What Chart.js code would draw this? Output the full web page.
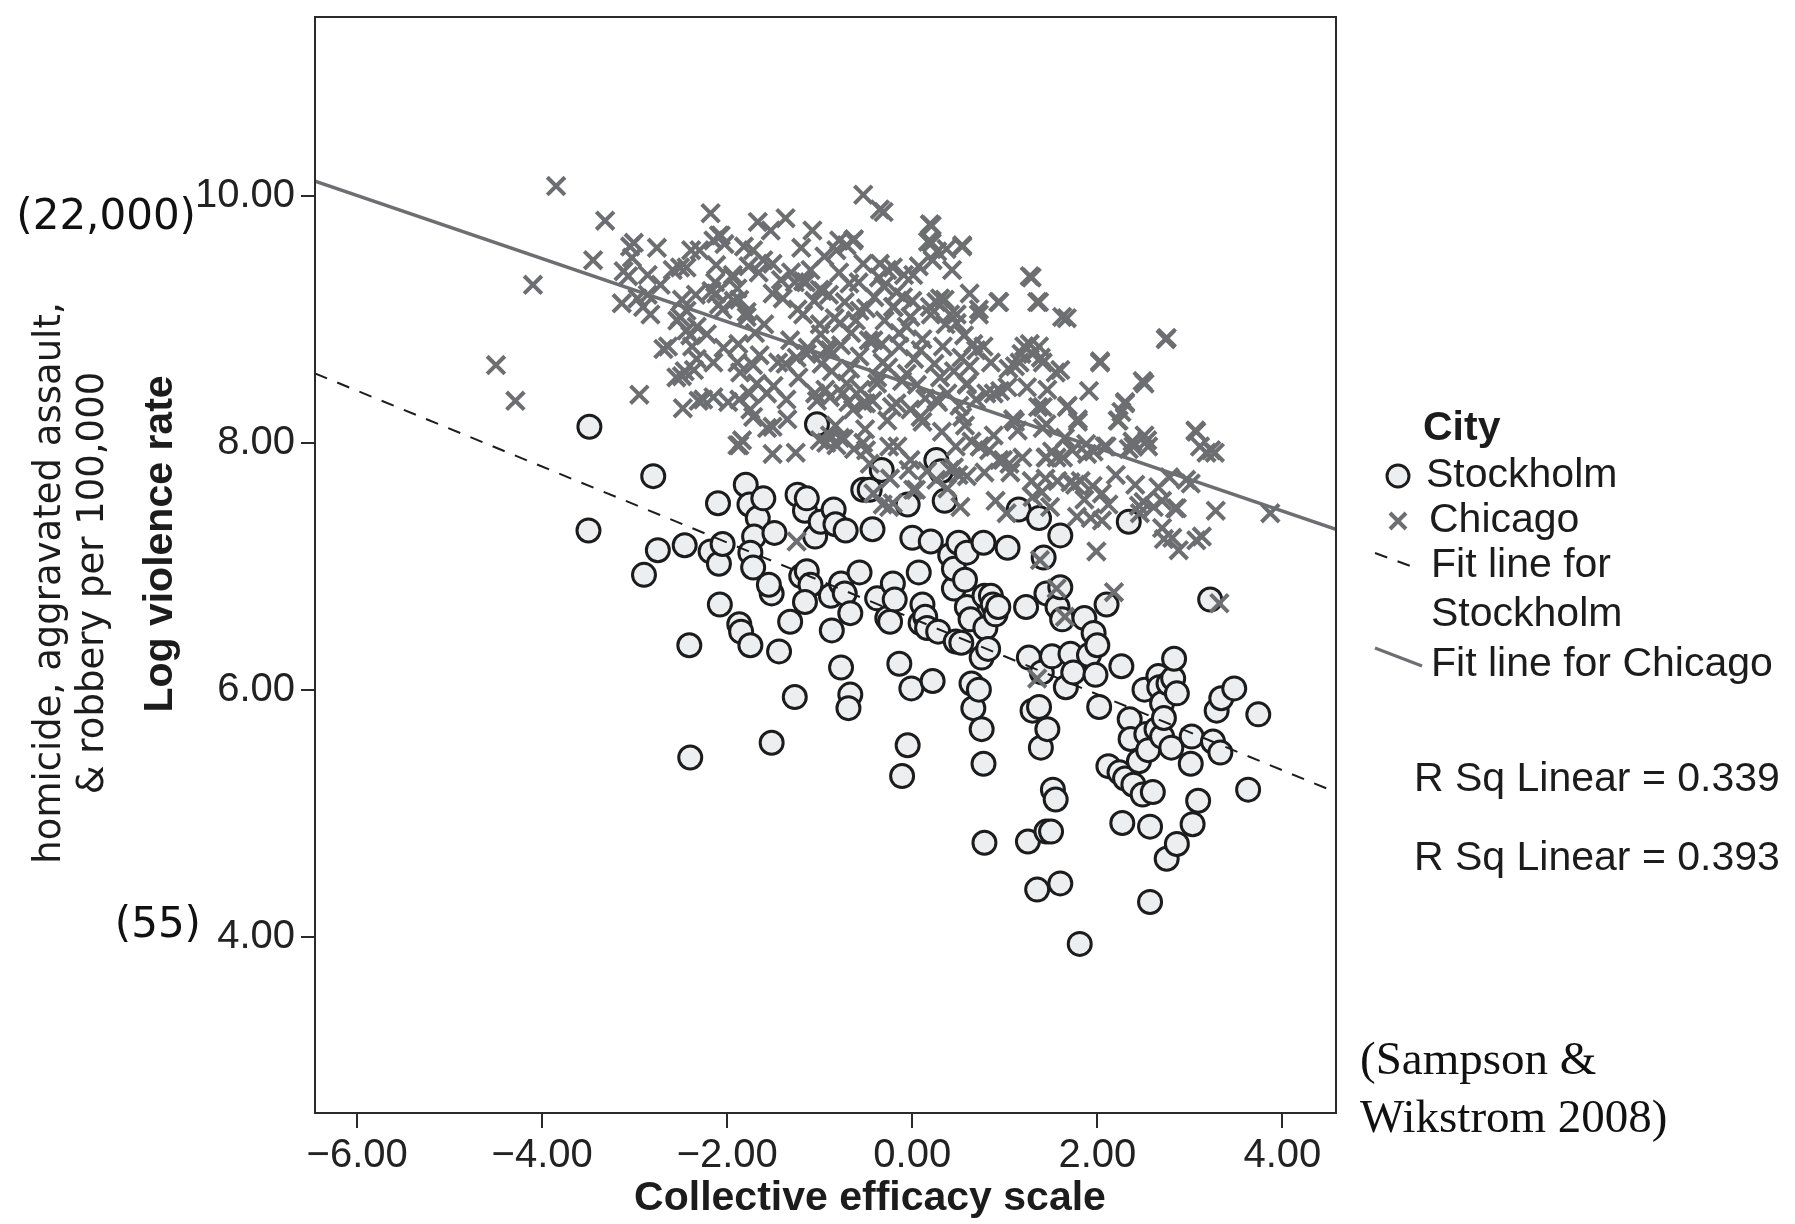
<!DOCTYPE html>
<html>
<head>
<meta charset="utf-8">
<script src="https://cdn.jsdelivr.net/npm/chart.js@4.4.1/dist/chart.umd.min.js"></script>
<style>
  html, body { margin: 0; padding: 0; background: #fff; }
  canvas { display: block; }
</style>
</head>
<body>
<canvas id="scatter" width="1795" height="1224" style="width:1795px;height:1224px"></canvas>
<script>
// axis ranges and ticks
var xRange = [-6.456, 4.58];
var yRange = [2.57, 11.45];
var xTicks = [-6, -4, -2, 0, 2, 4];
var yTicks = [4, 6, 8, 10];

// fit lines: [intercept, slope]
var stockholmFit = [6.577, -0.3075];
var chicagoFit = [8.47, -0.2555];

// Stockholm neighbourhoods [efficacy, log violence]
var stockholmPts = [
  [-3.49,8.13],[-3.50,7.29],[-2.80,7.73],[-2.90,6.93],[-2.75,7.13],[-2.46,7.17],[-2.41,6.36],[-2.40,5.45],
  [-2.10,7.51],[-2.18,7.12],[-2.09,7.02],[-2.05,7.18],[-2.08,6.69],[-1.87,6.53],[-1.85,6.47],[-1.75,6.36],
  [-1.80,7.66],[-1.76,7.50],[-1.67,7.39],[-1.71,7.24],[-1.75,7.11],[-1.72,6.99],[-1.61,7.55],[-1.49,7.27],
  [-1.52,6.78],[-1.55,6.85],[-1.44,6.31],[-1.52,5.57],[-1.32,6.55],[-1.27,5.94],[-1.24,7.58],[-1.20,6.92],
  [-1.16,7.45],[-1.14,6.96],[-1.14,7.55],[-1.10,6.85],[-1.16,6.71],[-1.05,7.24],[-0.99,7.36],[-0.88,6.76],
  [-0.85,7.46],[-0.83,7.34],[-0.87,6.48],[-0.77,6.18],[-0.77,6.86],[-0.72,7.29],[-0.73,6.78],[-0.67,6.62],
  [-0.67,5.96],[-0.69,5.85],[-0.57,6.95],[-0.53,7.62],[-0.46,7.62],[-0.43,7.30],[-0.33,7.78],[-0.38,6.74],
  [-0.27,6.58],[-0.24,6.55],[-0.21,6.86],[-0.19,6.73],[-0.14,6.21],[-0.11,5.30],[-0.05,7.50],[-0.05,5.55],
  [-0.01,6.01],[0.00,7.23],[0.07,6.95],[0.09,6.54],[0.11,6.69],[0.14,6.59],[0.16,6.50],[0.20,7.20],
  [0.22,6.07],[0.26,7.86],[0.28,6.47],[0.31,7.77],[0.35,7.53],[0.41,7.09],[0.45,6.82],[0.45,6.98],
  [0.47,6.39],[0.50,7.19],[0.53,6.38],[0.57,6.89],[0.59,7.11],[0.59,6.67],[0.64,6.05],[0.66,5.85],
  [0.63,6.57],[0.72,6.00],[0.75,6.26],[0.77,7.19],[0.78,6.76],[0.79,6.50],[0.82,6.33],[0.78,4.76],
  [0.77,5.40],[0.75,5.68],[0.85,6.76],[0.87,6.69],[0.90,6.61],[0.93,6.67],[1.03,7.15],[1.15,7.46],
  [1.23,6.67],[1.25,4.77],[1.26,6.26],[1.30,5.83],[1.35,4.38],[1.37,7.39],[1.37,5.86],[1.39,5.53],
  [1.40,6.14],[1.42,7.07],[1.45,6.78],[1.45,4.85],[1.46,5.68],[1.50,4.85],[1.51,6.27],[1.52,5.19],
  [1.55,5.11],[1.57,6.67],[1.60,6.83],[1.60,7.25],[1.60,4.43],[1.62,6.57],[1.66,6.02],[1.71,6.29],
  [1.74,6.14],[1.81,3.94],[1.86,6.58],[1.91,6.28],[1.96,6.46],[1.98,6.12],[2.00,6.36],[2.02,5.86],
  [2.10,6.69],[2.12,5.38],[2.24,5.33],[2.26,6.19],[2.27,4.92],[2.30,5.28],[2.34,7.36],[2.35,5.76],
  [2.36,5.60],[2.39,5.23],[2.45,5.42],[2.49,5.15],[2.51,6.00],[2.53,5.64],[2.55,5.51],[2.57,4.89],
  [2.57,4.28],[2.60,5.17],[2.64,5.68],[2.66,6.11],[2.67,6.02],[2.70,5.89],[2.70,5.62],[2.72,5.77],
  [2.75,4.63],[2.77,6.05],[2.80,5.53],[2.82,6.09],[2.83,6.25],[2.86,5.97],[2.86,4.75],[3.01,5.40],
  [3.02,5.62],[3.03,4.91],[3.09,5.10],[3.22,6.73],[3.25,5.58],[3.29,5.83],[3.33,5.49],[3.34,5.93],
  [3.48,6.01],[3.63,5.19],[3.74,5.80],[-1.03,8.15]
];

// Chicago neighbourhoods [efficacy, log violence]
var chicagoPts = [
  [-3.85,10.08],[-4.10,9.28],[-4.50,8.63],[-4.29,8.34],[-3.45,9.48],[-3.32,9.80],[-3.05,9.59],[-3.03,9.50],
  [-2.95,8.39],[-3.12,9.39],[-3.07,9.35],[-3.01,9.62],[-3.14,9.13],[-2.97,9.17],[-2.86,9.36],[-2.86,9.20],
  [-2.76,9.58],[-2.72,9.28],[-2.69,8.76],[-2.59,9.40],[-2.54,8.99],[-2.51,9.42],[-2.49,9.16],[-2.44,9.07],
  [-2.39,9.56],[-2.34,9.20],[-2.49,8.54],[-2.46,8.58],[-2.40,8.87],[-2.38,8.78],[-2.33,8.68],[-2.31,8.34],
  [-2.22,8.88],[-2.18,9.86],[-2.17,9.23],[-2.15,9.64],[-2.13,9.30],[-2.12,9.44],[-2.09,9.12],[-2.09,9.68],
  [-2.05,9.08],[-2.04,8.77],[-2.03,9.61],[-1.99,8.33],[-1.94,9.36],[-1.93,9.15],[-1.89,9.25],[-1.88,8.80],
  [-1.86,8.57],[-1.84,8.02],[-1.82,9.59],[-1.79,9.06],[-1.77,9.43],[-1.76,8.40],[-1.75,8.27],[-1.72,8.63],
  [-1.70,8.89],[-1.67,9.79],[-1.66,9.38],[-1.65,8.71],[-1.61,9.48],[-1.60,8.96],[-1.57,8.12],[-1.53,9.72],
  [-1.51,9.21],[-1.50,8.46],[-1.45,8.65],[-1.42,9.32],[-1.40,9.17],[-1.37,8.64],[-1.37,9.82],[-1.35,8.19],
  [-1.32,8.83],[-1.31,9.38],[-1.27,9.30],[-1.26,7.92],[-1.24,9.08],[-1.23,8.53],[-1.20,9.58],[-1.18,9.04],
  [-1.15,9.30],[-1.14,8.72],[-1.13,8.77],[-1.10,9.40],[-1.08,9.72],[-1.06,9.15],[-1.05,8.40],[-1.03,8.34],
  [-1.00,8.96],[-0.99,8.88],[-0.98,8.64],[-0.97,9.23],[-0.95,9.51],[-0.94,8.43],[-0.93,8.76],[-0.90,9.20],
  [-0.89,8.06],[-0.87,8.58],[-0.84,9.01],[-0.83,8.14],[-0.82,7.98],[-0.79,9.38],[-0.79,9.64],[-0.77,8.79],
  [-0.75,8.40],[-0.74,8.03],[-0.73,9.14],[-0.71,9.60],[-0.69,8.33],[-0.67,8.60],[-0.66,8.89],[-0.64,8.27],
  [-0.63,9.65],[-0.63,7.95],[-0.61,8.99],[-0.58,9.30],[-0.57,8.70],[-0.56,8.43],[-0.53,10.01],[-0.53,9.45],
  [-0.51,8.11],[-0.50,9.09],[-0.47,8.83],[-0.46,7.83],[-0.43,8.34],[-0.41,9.18],[-0.38,8.53],[-0.36,9.34],
  [-0.35,9.89],[-0.33,8.80],[-0.32,7.50],[-0.30,8.99],[-0.27,9.40],[-0.26,8.61],[-0.24,7.71],[-0.22,8.29],
  [-0.20,9.10],[-0.17,9.22],[-0.16,7.97],[-0.14,8.78],[-0.11,8.50],[-0.09,9.36],[-0.06,8.94],[-0.04,7.78],
  [-0.02,8.27],[0.00,9.15],[0.02,8.68],[0.04,7.62],[0.05,8.47],[0.07,9.43],[0.11,8.84],[0.11,8.17],
  [0.14,8.36],[0.16,7.77],[0.19,9.77],[0.20,9.04],[0.21,9.62],[0.24,8.64],[0.26,9.14],[0.27,9.55],
  [0.28,8.33],[0.32,8.09],[0.33,8.78],[0.35,9.16],[0.36,8.96],[0.38,7.63],[0.38,8.40],[0.41,7.78],
  [0.43,9.40],[0.45,8.58],[0.47,7.97],[0.48,9.04],[0.50,7.74],[0.51,8.30],[0.52,7.48],[0.53,8.69],
  [0.54,9.60],[0.56,8.87],[0.57,8.14],[0.59,8.47],[0.62,9.21],[0.64,8.01],[0.66,8.80],[0.69,8.35],
  [0.72,9.08],[0.78,7.76],[0.80,8.40],[0.83,7.94],[0.85,8.65],[0.88,8.06],[0.90,7.53],[0.93,9.14],
  [0.95,8.42],[0.98,7.86],[1.03,8.45],[1.06,7.76],[1.09,8.19],[1.11,8.62],[1.14,8.10],[1.18,8.72],
  [1.19,7.88],[1.21,8.78],[1.27,9.35],[1.29,7.69],[1.30,8.72],[1.35,9.14],[1.36,8.29],[1.39,8.69],
  [1.40,7.60],[1.41,8.12],[1.44,7.88],[1.46,8.43],[1.49,7.48],[1.51,7.93],[1.55,8.57],[1.57,7.69],
  [1.62,9.02],[1.65,8.04],[1.68,8.30],[1.71,7.68],[1.73,7.94],[1.76,7.66],[1.79,8.19],[1.82,7.69],
  [1.86,7.54],[1.88,7.99],[1.91,8.42],[1.93,7.39],[1.96,7.93],[1.99,7.12],[2.03,8.66],[2.05,7.59],
  [2.08,7.97],[2.12,7.50],[2.18,6.79],[2.20,7.74],[2.23,8.18],[2.26,8.25],[2.30,8.33],[2.34,7.95],
  [2.38,8.01],[2.41,7.66],[2.45,7.49],[2.49,8.50],[2.51,8.06],[2.55,7.97],[2.61,7.48],[2.66,7.64],
  [2.70,7.31],[2.72,7.22],[2.74,8.84],[2.78,7.72],[2.81,7.23],[2.86,7.47],[2.88,7.13],[2.96,7.70],
  [3.07,8.09],[3.11,7.97],[3.13,7.24],[3.23,7.94],[3.28,7.45],[3.32,6.70],[3.87,7.43],[1.35,6.09],
  [1.38,7.05],[1.56,6.82],[1.65,6.59],[-1.25,7.20],[-1.87,7.98],[-1.51,7.91],[-0.93,8.00],[-0.21,7.51],
  [0.73,7.97],
  // dense core, read from close-ups
  [-2.44,9.42],[-2.30,9.56],[-2.07,9.68],[-2.91,9.10],[-2.83,9.04],[-2.51,9.02],[-2.44,8.91],[-2.33,8.94],
  [-2.64,8.78],[-2.55,8.53],[-2.36,8.59],[-2.48,8.28],[-2.26,8.35],[-2.15,8.37],[-2.15,8.65],[-2.12,9.21],
  [-1.87,9.16],[-1.94,9.34],[-1.72,9.56],[-1.51,9.45],[-1.79,9.02],[-1.89,8.65],[-1.87,8.35],[-1.68,8.48],
  [-1.57,8.40],[-1.72,8.21],[-1.89,7.98],[-1.51,8.13],[-1.36,8.35],[-1.25,8.69],[-1.18,9.31],[-1.00,9.24],
  [-0.82,9.56],[-0.64,9.64],[-0.68,9.29],[-0.57,9.07],[-0.78,8.97],[-0.89,8.75],[-0.71,8.48],[-0.89,8.37],
  [-0.53,8.32],[-0.78,8.04],[-0.50,7.94],[-1.00,8.02],
  [-0.31,9.87],[0.21,9.76],[0.17,9.63],[0.37,9.57],[0.54,9.59],[0.22,9.48],[-0.35,9.45],[-0.21,9.42],
  [0.01,9.36],[1.29,9.34],[1.37,9.14],[0.94,9.14],[0.72,9.04],[1.67,9.01],[0.41,9.04],[0.30,9.17],
  [0.48,8.97],[0.19,9.10],[-0.10,9.18],[-0.31,9.27],[-0.21,9.10],[-0.02,9.02],[-0.14,8.89],[-0.42,8.83],
  [0.09,8.75],[-0.32,8.65],[-0.06,8.56],[0.30,8.53],[0.69,8.75],[0.77,8.78],[0.62,8.62],[0.59,8.48],
  [1.16,8.65],[1.27,8.80],[1.37,8.78],[1.60,8.59],[1.41,8.65],[1.04,8.60],[1.24,8.45],[0.88,8.40],
  [2.03,8.65],[2.75,8.85],[2.51,8.48],[2.30,8.32],[2.22,8.18],[1.67,8.29],[1.79,8.17],[1.41,8.29],
  [1.45,8.15],[1.11,8.17],[0.73,7.97],[1.56,7.88],[1.89,7.91],[2.10,7.97],[2.39,7.97],[2.54,8.02],
  [3.06,8.10],[3.18,7.92],[3.27,7.92],[1.05,7.83],[0.54,8.21],[0.26,8.35],[0.09,8.21],[-0.17,8.32],
  [-0.38,8.48],[-0.27,8.18],[-0.50,8.32],[-0.53,8.00],[-0.25,7.97],[-0.02,7.86],[0.45,7.80],[0.94,7.86],
  [1.45,7.88],[1.63,7.88],
  [1.78,7.40],[2.05,7.37],[2.46,7.43],[2.50,7.52],[2.70,7.53],[2.84,7.47],[3.01,7.67],[3.07,7.21],
  [1.02,7.43],[1.44,7.71],[1.95,7.65],[1.30,7.56],[0.01,7.62],[-0.25,7.48],[-0.42,7.59],[0.26,7.70],
  [0.59,7.73]
];

var ink = '#1c1c1c';
var crossGrey = '#6d6e71';
var circleFill = '#eceef0';

function toPoints(arr) {
  return arr.map(function (p) { return { x: p[0], y: p[1] }; });
}
function fitLine(fit) {
  return [
    { x: xRange[0], y: fit[0] + fit[1] * xRange[0] },
    { x: xRange[1], y: fit[0] + fit[1] * xRange[1] }
  ];
}
function fmtTick(v) {
  return v.toFixed(2).replace('-', '\u2212');
}
function noPad(s) {
  s.paddingTop = 0; s.paddingBottom = 0; s.paddingLeft = 0; s.paddingRight = 0;
}

// frame, axis titles, side notes and the legend
var decorPlugin = {
  id: 'decor',
  afterDraw: function (chart) {
    var ctx = chart.ctx;
    var a = chart.chartArea;
    ctx.save();
    ctx.strokeStyle = '#2a2a2a';
    ctx.lineWidth = 2;
    ctx.strokeRect(a.left, a.top, a.right - a.left, a.bottom - a.top);

    ctx.fillStyle = ink;
    ctx.textBaseline = 'middle';

    // x title
    ctx.textAlign = 'center';
    ctx.font = 'bold 41px "Liberation Sans", Arial, sans-serif';
    ctx.fillText('Collective efficacy scale', 870, 1199);

    // rotated y titles
    function vText(txt, x, y, font) {
      ctx.save();
      ctx.translate(x, y);
      ctx.rotate(-Math.PI / 2);
      ctx.font = font;
      ctx.textAlign = 'center';
      ctx.fillText(txt, 0, 0);
      ctx.restore();
    }
    vText('Log violence rate', 161, 544, 'bold 41px "Liberation Sans", Arial, sans-serif');
    vText('homicide, aggravated assault,', 50, 583, '37px "DejaVu Sans", sans-serif');
    vText('& robbery per 100,000', 93, 583, '37px "DejaVu Sans", sans-serif');

    // raw rate notes
    ctx.textAlign = 'right';
    ctx.font = '42px "DejaVu Sans", sans-serif';
    ctx.fillStyle = '#111';
    ctx.fillText('(22,000)', 196, 218);
    ctx.fillText('(55)', 201, 926);

    // legend
    ctx.fillStyle = ink;
    ctx.textAlign = 'left';
    ctx.font = 'bold 41px "Liberation Sans", Arial, sans-serif';
    ctx.fillText('City', 1423, 429);
    ctx.font = '41px "Liberation Sans", Arial, sans-serif';
    ctx.fillText('Stockholm', 1426, 476);
    ctx.fillText('Chicago', 1429, 521);
    ctx.fillText('Fit line for', 1431, 566);
    ctx.fillText('Stockholm', 1431, 615);
    ctx.fillText('Fit line for Chicago', 1431, 665);
    ctx.fillText('R Sq Linear = 0.339', 1414, 780);
    ctx.fillText('R Sq Linear = 0.393', 1414, 859);

    // legend symbols
    ctx.beginPath();
    ctx.arc(1398, 476, 11, 0, Math.PI * 2);
    ctx.fillStyle = circleFill;
    ctx.fill();
    ctx.lineWidth = 3;
    ctx.strokeStyle = ink;
    ctx.stroke();

    ctx.strokeStyle = crossGrey;
    ctx.lineWidth = 4;
    ctx.beginPath();
    ctx.moveTo(1390, 513); ctx.lineTo(1406, 529);
    ctx.moveTo(1406, 513); ctx.lineTo(1390, 529);
    ctx.stroke();

    ctx.strokeStyle = ink;
    ctx.lineWidth = 2;
    ctx.setLineDash([13, 11]);
    ctx.beginPath();
    ctx.moveTo(1375, 553); ctx.lineTo(1413, 567);
    ctx.stroke();
    ctx.setLineDash([]);

    ctx.strokeStyle = crossGrey;
    ctx.lineWidth = 3;
    ctx.beginPath();
    ctx.moveTo(1375, 648); ctx.lineTo(1422, 666);
    ctx.stroke();

    // source
    ctx.fillStyle = '#111';
    ctx.font = '47px "Liberation Serif", "Times New Roman", serif';
    ctx.fillText('(Sampson &', 1360, 1062);
    ctx.fillText('Wikstrom 2008)', 1360, 1120);
    ctx.restore();
  }
};

var ctx = document.getElementById('scatter').getContext('2d');
var chart = new Chart(ctx, {
  type: 'scatter',
  data: {
    datasets: [
      {
        label: 'Fit line for Stockholm',
        type: 'line',
        data: fitLine(stockholmFit),
        borderColor: ink,
        borderWidth: 2,
        borderDash: [13, 11],
        pointRadius: 0,
        fill: false,
        order: 0
      },
      {
        label: 'Fit line for Chicago',
        type: 'line',
        data: fitLine(chicagoFit),
        borderColor: crossGrey,
        borderWidth: 3.5,
        pointRadius: 0,
        fill: false,
        order: 0
      },
      {
        label: 'Chicago',
        data: toPoints(chicagoPts),
        pointStyle: 'crossRot',
        pointRadius: 12.5,
        borderColor: crossGrey,
        borderWidth: 4,
        order: 1
      },
      {
        label: 'Stockholm',
        data: toPoints(stockholmPts),
        pointStyle: 'circle',
        pointRadius: 11.5,
        backgroundColor: circleFill,
        borderColor: ink,
        borderWidth: 3,
        order: 2
      }
    ]
  },
  options: {
    responsive: false,
    animation: false,
    devicePixelRatio: 1,
    layout: { padding: { left: 0, right: 459, top: 17, bottom: 0 } },
    plugins: {
      legend: { display: false },
      tooltip: { enabled: false }
    },
    scales: {
      x: {
        type: 'linear',
        min: xRange[0],
        max: xRange[1],
        afterBuildTicks: function (s) { s.ticks = xTicks.map(function (v) { return { value: v }; }); },
        afterFit: function (s) { s.height = 111; noPad(s); },
        grid: { drawOnChartArea: false, drawTicks: true, tickLength: 15, color: '#2a2a2a', lineWidth: 2 },
        border: { display: true, color: '#2a2a2a', width: 2 },
        ticks: {
          autoSkip: false, maxRotation: 0, padding: 4, color: '#222',
          font: { family: '"Liberation Sans", Arial, sans-serif', size: 40 },
          callback: fmtTick
        }
      },
      y: {
        type: 'linear',
        min: yRange[0],
        max: yRange[1],
        afterBuildTicks: function (s) { s.ticks = yTicks.map(function (v) { return { value: v }; }); },
        afterFit: function (s) { s.width = 315; noPad(s); },
        grid: { drawOnChartArea: false, drawTicks: true, tickLength: 14, color: '#2a2a2a', lineWidth: 2 },
        border: { display: true, color: '#2a2a2a', width: 2 },
        ticks: {
          autoSkip: false, padding: 6, color: '#222',
          font: { family: '"Liberation Sans", Arial, sans-serif', size: 40 },
          callback: fmtTick
        }
      }
    }
  },
  plugins: [decorPlugin]
});
</script>
</body>
</html>
